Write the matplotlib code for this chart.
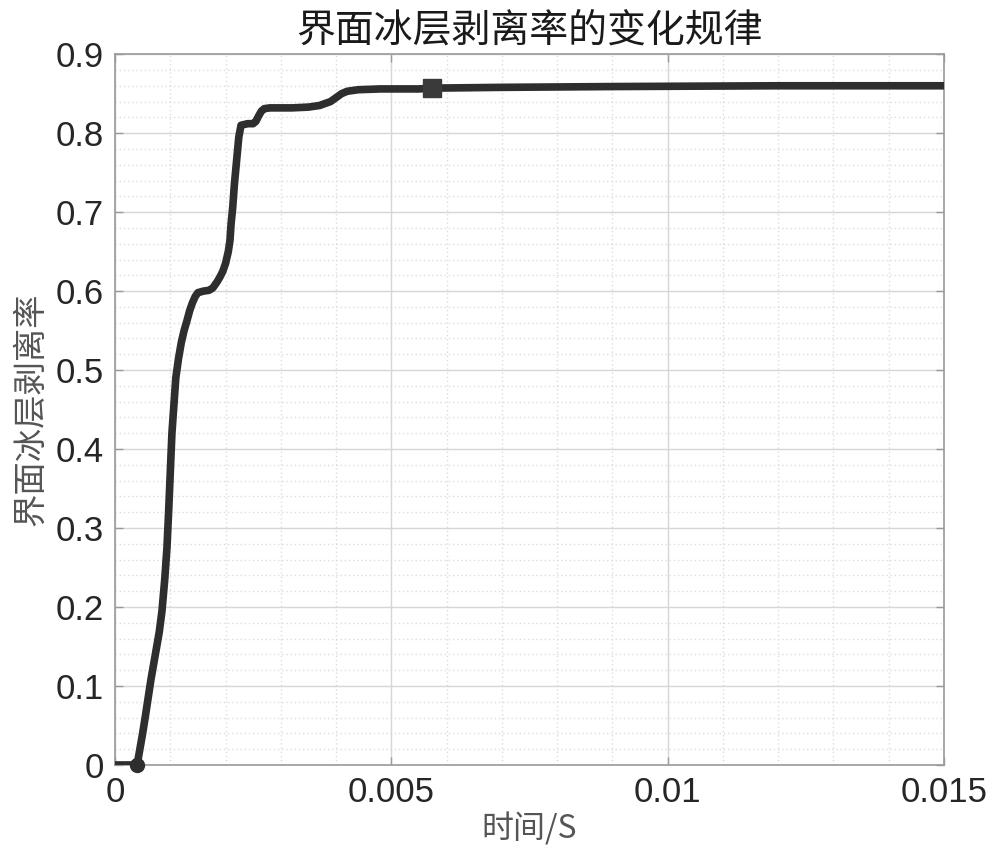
import matplotlib
matplotlib.use("Agg")
import matplotlib.pyplot as plt
from matplotlib.ticker import MultipleLocator, FixedLocator

plt.rcParams['font.family'] = ['Liberation Sans', 'Noto Sans CJK SC', 'DejaVu Sans']

# data
t = [0.0, 0.0002, 0.0004, 0.00045, 0.0005, 0.00055, 0.0006, 0.00065, 0.0007, 0.00075,
     0.0008, 0.00085, 0.0009, 0.00094, 0.00097, 0.001, 0.00103, 0.00107, 0.0011, 0.00115,
     0.0012, 0.00125, 0.0013, 0.00135, 0.0014, 0.00145, 0.0015, 0.0016, 0.0017, 0.00177,
     0.00185, 0.0019, 0.00195, 0.002, 0.00205, 0.00208, 0.0021, 0.00213, 0.00216, 0.0022,
     0.00224, 0.00228, 0.0024, 0.0025, 0.00255, 0.0026, 0.00265, 0.0027, 0.0028, 0.0032,
     0.0035, 0.0037, 0.0039, 0.004, 0.0041, 0.0042, 0.0044, 0.0048, 0.0055, 0.00573,
     0.007, 0.009, 0.012, 0.015]
rate = [0.0, 0.0, 0.0, 0.02, 0.04, 0.062, 0.085, 0.108, 0.128, 0.148,
        0.168, 0.195, 0.235, 0.275, 0.32, 0.37, 0.42, 0.46, 0.49, 0.515,
        0.535, 0.55, 0.562, 0.575, 0.585, 0.593, 0.598, 0.600, 0.601, 0.604,
        0.612, 0.618, 0.625, 0.635, 0.65, 0.664, 0.685, 0.706, 0.735, 0.765,
        0.795, 0.81, 0.812, 0.812, 0.815, 0.822, 0.828, 0.831, 0.832, 0.832,
        0.833, 0.835, 0.840, 0.845, 0.850, 0.853, 0.855, 0.856, 0.856, 0.857,
        0.858, 0.859, 0.860, 0.860]
start_pt = (0.0004, 0.0)
end_pt = (0.00573, 0.857)

xticks = [0, 0.005, 0.01, 0.015]
xticklabels = ['0', '0.005', '0.01', '0.015']
yticks = [0, 0.1, 0.2, 0.3, 0.4, 0.5, 0.6, 0.7, 0.8, 0.9]
yticklabels = ['0', '0.1', '0.2', '0.3', '0.4', '0.5', '0.6', '0.7', '0.8', '0.9']

fig = plt.figure(figsize=(10, 8.6), dpi=100)
ax = fig.add_axes([0.115, 0.1105, 0.829, 0.8265])

ax.plot(t, rate, color='#2e2e2e', lw=5.5, solid_capstyle='round', solid_joinstyle='round', zorder=3)
ax.plot([start_pt[0]], [start_pt[1]], marker='o', ms=10, color='#2e2e2e', zorder=4, clip_on=False)
ax.plot([end_pt[0]], [end_pt[1]], marker='s', ms=13, color='#3a3a3a', zorder=4)

ax.set_xlim(0, 0.015)
ax.set_ylim(0, 0.9)
ax.xaxis.set_major_locator(FixedLocator(xticks))
ax.set_xticklabels(xticklabels)
ax.yaxis.set_major_locator(FixedLocator(yticks))
ax.set_yticklabels(yticklabels)
ax.xaxis.set_minor_locator(MultipleLocator(0.001))
ax.yaxis.set_minor_locator(MultipleLocator(0.02))

ax.grid(which='major', color='#d6d6d6', lw=1.0, ls='-')
ax.grid(which='minor', color='#dcdcdc', lw=1.0, ls=(0, (1, 2)))
ax.set_axisbelow(True)

for s in ax.spines.values():
    s.set_color('#9a9a9a')
    s.set_linewidth(1.2)

ax.tick_params(which='major', direction='in', length=6, width=1, color='#9a9a9a',
               top=True, right=True, labelsize=25, labelcolor='#262626', pad=8)
ax.tick_params(which='minor', length=0)

ax.set_title('界面冰层剥离率的变化规律', fontsize=28, color='#1a1a1a',
             family=['Noto Sans CJK SC'], pad=9)
ax.set_xlabel('时间/S', fontsize=23, color='#555555', family=['Noto Sans CJK SC', 'DejaVu Sans'], labelpad=2)
ax.set_ylabel('界面冰层剥离率', fontsize=24, color='#555555', family=['Noto Sans CJK SC'], labelpad=5)

fig.savefig('out.png', dpi=100)
